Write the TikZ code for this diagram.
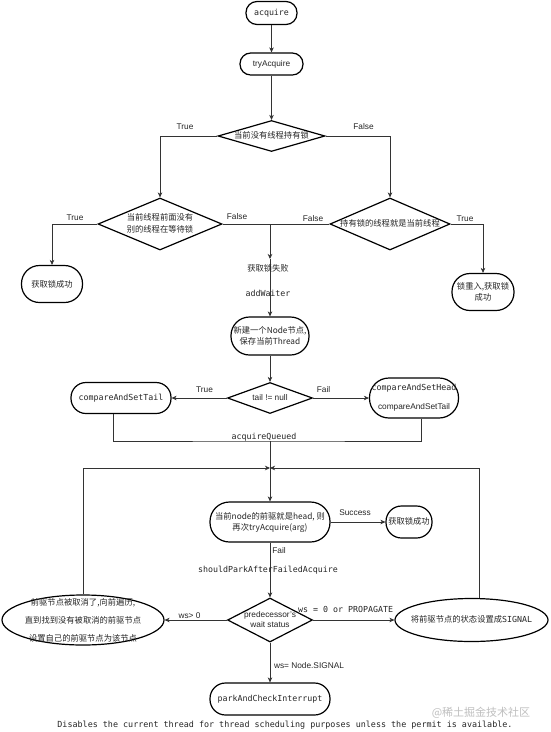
\documentclass[tikz,border=0pt]{standalone}
\usepackage{fontspec}
\setmainfont{Liberation Sans}
\newfontfamily\cjk{Noto Sans CJK SC}
\newfontfamily\mono{DejaVu Sans Mono}
\usetikzlibrary{shapes.geometric,arrows.meta}
\newcommand{\zbox}[1]{\makebox[0pt]{\smash{\raisebox{-0.3em}{\begin{tabular}{@{}c@{}}#1\end{tabular}}}}}
\tikzset{
  base/.style={font=\fontsize{8.3}{10}\selectfont, text=black!85},
  ck/.style={font=\fontsize{8.3}{#1}\selectfont\cjk},
  ck/.default=10,
  stad/.style={base, draw=black, line width=1.2pt, inner sep=0pt, align=center},
  dia/.style={base, draw=black, diamond, line width=1.2pt, inner sep=0pt, align=center},
  ell/.style={base, draw=black, ellipse, line width=1.2pt, inner sep=0pt, align=center},
  lbl/.style={base, inner sep=0pt},
  conn/.style={line width=0.7pt, draw=black!80},
  arr/.style={conn, -{Stealth[length=5pt,width=4.5pt,inset=1.5pt]}},
}
\begin{document}
\begin{tikzpicture}[x=1pt,y=-1pt]
\fill[white] (0,0) rectangle (550,732);
\useasboundingbox (0,0) rectangle (550,732);

% nodes
\node[stad, minimum width=51pt, minimum height=23pt, rounded corners=11pt] (acq) at (271.5,13) {\mono acquire};
\node[stad, minimum width=63pt, minimum height=22pt, rounded corners=10.7pt] (try) at (271.5,64) {tryAcquire};
\node[dia, ck, minimum width=107pt, minimum height=31pt] (d1) at (271.5,136) {\zbox{当前没有线程持有锁}};
\node[dia, ck=12, minimum width=124pt, minimum height=52pt] (d2) at (160,224) {\zbox{当前线程前面没有\\别的线程在等待锁}};
\node[dia, ck, minimum width=120pt, minimum height=52pt] (d3) at (390,224) {\zbox{持有锁的线程就是当前线程}};
\node[stad, ck, minimum width=61pt, minimum height=37pt, rounded corners=18pt] (ok1) at (52,284) {获取锁成功};
\node[stad, ck=11, minimum width=62pt, minimum height=37pt, rounded corners=18pt] (ok2) at (483,292) {\zbox{锁重入,获取锁\\成功}};
\node[stad, ck=11, minimum width=78pt, minimum height=38pt, rounded corners=18.5pt] (newn) at (270,336) {\zbox{新建一个Node节点,\\保存当前Thread}};
\node[dia, minimum width=85pt, minimum height=31pt] (d4) at (270,398) {\zbox{tail != null}};
\node[stad, minimum width=100pt, minimum height=31pt, rounded corners=15pt] (cast) at (121,398) {\mono compareAndSetTail};
\node[stad, minimum width=89pt, minimum height=40pt, rounded corners=19.5pt] (cash) at (414,398) {\zbox{{\mono compareAndSetHead}\\[9pt]compareAndSetTail}};
\node[stad, ck=11, minimum width=120pt, minimum height=40pt, rounded corners=19.5pt] (head) at (270,522) {\zbox{当前node的前驱就是head, 则\\再次tryAcquire(arg)}};
\node[stad, ck, minimum width=46pt, minimum height=32pt, rounded corners=15.5pt] (ok3) at (409,522) {\zbox{获取锁成功}};
\node[dia, minimum width=85pt, minimum height=44pt] (d5) at (270,620) {\zbox{predecessor's\\wait status}};
\node[ell, ck, minimum width=162pt, minimum height=50pt] (left) at (83,620) {\raisebox{-2pt}{\zbox{前驱节点被取消了,向前遍历,\\[7.5pt]直到找到没有被取消的前驱节点\\[7.5pt]设置自己的前驱节点为该节点}}};
\node[ell, ck, minimum width=153pt, minimum height=43pt] (right) at (471.5,620) {\zbox{将前驱节点的状态设置成{\mono SIGNAL}}};
\node[stad, minimum width=120pt, minimum height=32pt, rounded corners=15.5pt] (park) at (270,699) {\mono parkAndCheckInterrupt};

% connectors
\draw[arr] (acq.south) -- (try.north);
\draw[arr] (try.south) -- (d1.north);
\draw[arr] (d1.west) -| (d2.north);
\draw[arr] (d1.east) -| (d3.north);
\draw[arr] (d2.west) -| (ok1.north);
\draw[arr] (d3.east) -| (ok2.north);
\coordinate (mid) at (270,224);
\coordinate (fail) at (270,259);
\draw[conn] (d2.east) -- (mid);
\draw[conn] (d3.west) -- (mid);
\draw[arr] (mid) -- (fail);
\draw[arr] (fail) -- (newn.north);
\draw[arr] (newn.south) -- (d4.north);
\draw[arr] (d4.west) -- (cast.east);
\draw[arr] (d4.east) -- (cash.west);
\coordinate (aq) at (270,441);
\draw[conn] ([xshift=-8pt]cast.south) |- (aq) -| ([xshift=7pt]cash.south);
\draw[arr] (aq) -- (head.north);
\coordinate (j) at (270,468);
\draw[arr] (left.north) |- (j);
\draw[arr] ([xshift=8pt]right.north) |- (j);
\draw[arr] (head.east) -- (ok3.west);
\draw[arr] (head.south) -- (d5.north);
\draw[arr] (d5.west) -- (left.east);
\draw[arr] (d5.east) -- (right.west);
\draw[arr] (d5.south) -- (park.north);

% labels
\node[lbl] (t1) at (185,127) {True};
\node[lbl] (f1) at (363.5,127) {False};
\node[lbl] (t2) at (75,217.5) {True};
\node[lbl] (f2) at (237,217) {False};
\node[lbl] (f3) at (313,219) {False};
\node[lbl] (t3) at (465,219) {True};
\node[lbl, ck] (lfail) at (268,268) {获取锁失败};
\node[lbl] (ladd) at (268,293) {\mono addWaiter};
\node[lbl] (t4) at (204.5,390) {True};
\node[lbl] (f4) at (323.5,390) {Fail};
\node[lbl] (laq) at (264,437) {\mono acquireQueued};
\node[lbl] (lsucc) at (355,513) {Success};
\node[lbl] (f5) at (279,551) {Fail};
\node[lbl] (lsp) at (268,570.5) {\mono shouldParkAfterFailedAcquire};
\node[lbl] (lws1) at (189.5,616) {ws> 0};
\node[lbl] (lws2) at (345.6,609) {\mono ws = 0 or PROPAGATE};
\node[lbl] (lws3) at (309,665.5) {ws= Node.SIGNAL};
\node[lbl, font=\fontsize{8.4}{10}\selectfont\mono] (note) at (285,725) {Disables the current thread for thread scheduling purposes unless the permit is available.};
\node[lbl, font=\fontsize{11}{12}\selectfont\cjk, text=black!25] (wm) at (481,713) {@稀土掘金技术社区};
\end{tikzpicture}
\end{document}
